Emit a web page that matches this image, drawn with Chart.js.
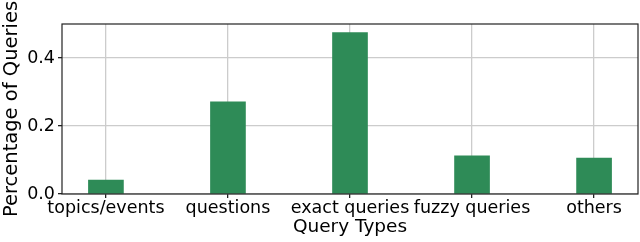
<!DOCTYPE html>
<html>
<head>
<meta charset="utf-8">
<script src="https://cdn.jsdelivr.net/npm/chart.js@4/dist/chart.umd.min.js"></script>
<style>
  html, body { margin: 0; padding: 0; background: #fff; }
  #wrap { width: 640px; height: 242px; }
</style>
</head>
<body>
<div id="wrap"><canvas id="c"></canvas></div>
<script>
// query type shares
const categories = ['topics/events', 'questions', 'exact queries', 'fuzzy queries', 'others'];
const shares     = [0.041, 0.271, 0.475, 0.112, 0.106];
const yTicks     = [0, 0.2, 0.4];

const boxPlugin = {
  id: 'box',
  afterDraw(chart) {
    const { ctx, chartArea: a } = chart;
    ctx.save();
    ctx.strokeStyle = '#222';
    ctx.lineWidth = 1.2;
    ctx.strokeRect(a.left, a.top, a.right - a.left, a.bottom - a.top);
    ctx.restore();
  },
};

const tickFont  = { family: 'DejaVu Sans', size: 17.5 };
const titleFont = { family: 'DejaVu Sans', size: 18.5 };

new Chart(document.getElementById('c'), {
  type: 'bar',
  data: {
    datasets: [{
      data: shares.map((v, i) => ({ x: i, y: v })),
      backgroundColor: '#2e8b57',
      barThickness: 35,
    }],
  },
  options: {
    responsive: true,
    maintainAspectRatio: false,
    animation: false,
    layout: { padding: { top: 24, right: 2 } },
    plugins: { legend: { display: false }, tooltip: { enabled: false } },
    scales: {
      x: {
        type: 'linear',
        min: -0.36, max: 4.36,
        offset: false,
        z: 1,
        afterBuildTicks: s => { s.ticks = categories.map((_, i) => ({ value: i })); },
        afterFit: s => { s.height = 48; },
        grid: { offset: false, color: '#cccccc', lineWidth: 1.3, tickLength: 4, tickColor: '#222' },
        border: { display: false },
        ticks: { color: '#000', font: tickFont, padding: 0, maxRotation: 0, autoSkip: false,
                 callback: v => categories[v] },
        title: { display: true, text: 'Query Types', color: '#000', font: titleFont, padding: { top: -4 } },
      },
      y: {
        min: 0, max: 0.5,
        z: 1,
        afterBuildTicks: s => { s.ticks = yTicks.map(v => ({ value: v })); },
        afterFit: s => { s.width = 62; },
        grid: { color: '#cccccc', lineWidth: 1.3, tickLength: 4, tickColor: '#222' },
        border: { display: false },
        ticks: { color: '#000', font: tickFont, padding: 3, callback: v => v.toFixed(1) },
        title: { display: true, text: 'Percentage of Queries', color: '#000',
                 font: { ...titleFont, size: 19.5 }, padding: 0 },
      },
    },
  },
  plugins: [boxPlugin],
});
</script>
</body>
</html>
